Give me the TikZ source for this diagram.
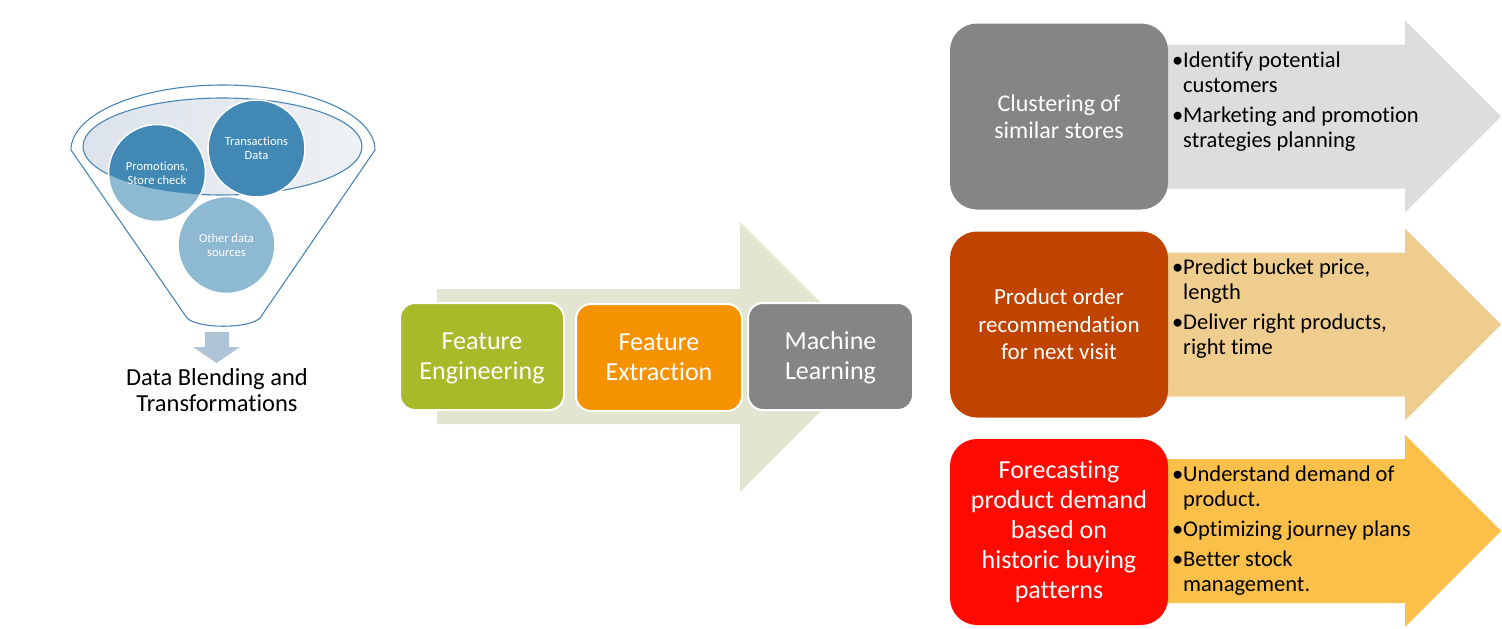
\documentclass[tikz,border=0pt]{standalone}
\usepackage{fontspec}
\setmainfont{Carlito}[Ligatures={NoCommon}]
\definecolor{funnelblue}{HTML}{4A86B5}
\definecolor{innerfill}{HTML}{E4EAF1}
\definecolor{innerleft}{HTML}{DCE3EC}
\definecolor{innerright}{HTML}{EEF1F5}
\definecolor{darkc}{HTML}{4189B4}
\definecolor{lightc}{HTML}{8EB9D2}
\definecolor{downc}{HTML}{AFC3D6}
\definecolor{midarrowc}{HTML}{E2E5CF}
\definecolor{greenc}{HTML}{A8B92A}
\definecolor{orangec}{HTML}{F49200}
\definecolor{grayc}{HTML}{858585}
\definecolor{brownc}{HTML}{C04400}
\definecolor{redc}{HTML}{FD0A00}
\definecolor{arrowgray}{HTML}{DDDDDD}
\definecolor{arrowtan}{HTML}{EFCD8F}
\definecolor{arrowgold}{HTML}{FBC04A}
\begin{document}
\begin{tikzpicture}[x=1pt,y=-1pt,
  rbox/.style={rounded corners=27pt, minimum width=218pt, minimum height=186pt, inner sep=0pt, text=white, align=center},
  mbox/.style={rounded corners=15pt, draw=white, line width=2pt, minimum height=107pt, inner sep=0pt, text=white, align=center, font=\fontsize{26}{30}\selectfont},
  mtext/.style={inner sep=0pt, text=white, align=center, font=\fontsize{26}{30}\selectfont},
  blist/.style={anchor=north west, inner sep=0pt, align=left, text=black, font=\fontsize{22.5}{25}\selectfont},
  circ/.style={circle, minimum size=97pt, inner sep=0pt, text=white, align=center, font=\fontsize{12.5}{14}\selectfont},
  funnelline/.style={draw=funnelblue, line width=1.1pt},
]
\useasboundingbox (0,0) rectangle (1502,629);

% ---------- funnel ----------
\draw[funnelline, fill=white] (71,150) arc[start angle=180, end angle=360, x radius=152, y radius=65]
  -- (260,318) .. controls (249,329) and (198,329) .. (187,318) -- cycle;
\shade[left color=innerleft, right color=innerright] (222.5,146.5) ellipse[x radius=139.5, y radius=48.5];
\draw[funnelline] (222.5,146.5) ellipse[x radius=139.5, y radius=48.5];

\node[circ, fill=lightc, draw=white, line width=1.5pt] (other) at (226.5,245) {Other data\\sources};
\node[circ, fill=lightc] (promo) at (157,173) {};
\begin{scope}
  \clip (222.5,146.5) ellipse[x radius=139.5, y radius=48.5];
  \fill[darkc] (promo.center) circle[radius=48.5];
\end{scope}
\node[circ, draw=white, line width=1.5pt] (promotext) at (promo.center) {Promotions,\\Store check};
\node[circ, fill=darkc, draw=white, line width=1.5pt] (trans) at (256.5,148.5) {Transactions\\Data};

\fill[downc] (205,332) -- (229,332) -- (229,347) -- (240,347) -- (216.5,363) -- (193,347) -- (205,347) -- cycle;
\node[font=\fontsize{24.5}{26}\selectfont, align=center, inner sep=0pt] (blend) at (217,390) {Data Blending and\\Transformations};

% ---------- middle process arrow ----------
\fill[midarrowc] (437,289) -- (740,289) -- (740,222) -- (875,357) -- (740,492) -- (740,424) -- (437,424) -- cycle;
\node[mbox, fill=greenc, minimum width=164pt] (fe) at (482,356.5) {};
\node[mbox, fill=orangec, minimum width=166pt] (fx) at (659,357.5) {};
\node[mbox, fill=grayc, minimum width=165pt] (ml) at (830.5,356.5) {};
\node[mtext] (fetext) at ([yshift=-2pt]fe.center) {Feature\\Engineering};
\node[mtext] (fxtext) at (fx.center) {Feature\\Extraction};
\node[mtext] (mltext) at ([yshift=-1.5pt]ml.center) {Machine\\Learning};

% ---------- right side arrows ----------
\foreach \cy/\col in {116.5/arrowgray, 324.5/arrowtan, 531/arrowgold}{
  \fill[\col] (1150,\cy-72) -- (1405,\cy-72) -- (1405,\cy-96) -- (1501,\cy) -- (1405,\cy+96) -- (1405,\cy+72) -- (1150,\cy+72) -- cycle;
}

\node[rbox, fill=grayc, font=\fontsize{24}{27}\selectfont] (clust) at (1059,116.5) {Clustering of\\similar stores};
\node[rbox, fill=brownc, font=\fontsize{23}{27.5}\selectfont] (prod) at (1059,324.5) {Product order\\recommendation\\for next visit};
\node[rbox, fill=redc, font=\fontsize{26}{30}\selectfont] (fore) at (1059,532) {Forecasting\\product demand\\based on\\historic buying\\patterns};

\node[blist] (b1) at (1172,50) {\begin{tabular}{@{}l@{}l@{}}
\makebox[11pt][l]{•}&Identify potential\\
&customers\\[5pt]
\makebox[11pt][l]{•}&Marketing and promotion\\
&strategies planning
\end{tabular}};
\node[blist] (b2) at (1172,257) {\begin{tabular}{@{}l@{}l@{}}
\makebox[11pt][l]{•}&Predict bucket price,\\
&length\\[5pt]
\makebox[11pt][l]{•}&Deliver right products,\\
&right time
\end{tabular}};
\node[blist] (b3) at (1172,464) {\begin{tabular}{@{}l@{}l@{}}
\makebox[11pt][l]{•}&Understand demand of\\
&product.\\[5pt]
\makebox[11pt][l]{•}&Optimizing journey plans\\[5pt]
\makebox[11pt][l]{•}&Better stock\\
&management.
\end{tabular}};
\end{tikzpicture}
\end{document}
